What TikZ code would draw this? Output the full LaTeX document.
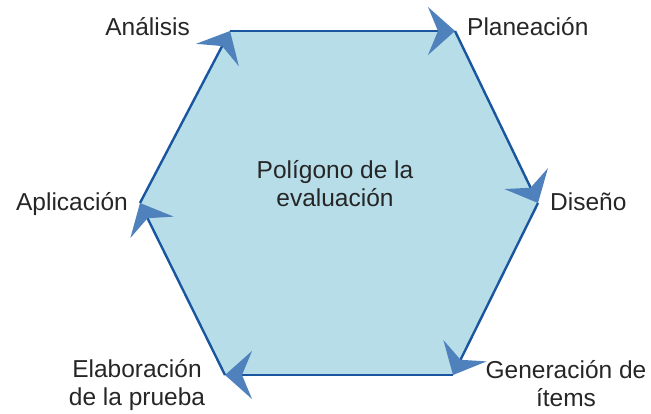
\documentclass[tikz,border=0pt]{standalone}
\usepackage{fontspec}
\setmainfont{Liberation Sans}
\usetikzlibrary{arrows.meta}
\definecolor{hexfill}{HTML}{B7DDE8}
\definecolor{hexline}{HTML}{1A56A0}
\definecolor{tipblue}{HTML}{4F81BD}

\begin{document}
\begin{tikzpicture}[x=1pt, y=-1pt,
    stage/.style={font=\fontsize{24.5}{28}\selectfont, align=center,
                  inner sep=0pt, text=black!85},
    side/.style={line width=2.4pt, draw=hexline,
                 -{Stealth[length=27pt, width=48pt, inset=10pt, color=tipblue]}}
]
    \useasboundingbox (0,0) rectangle (651,413);

    % corners of the hexagon
    \coordinate (an) at (230,31);
    \coordinate (pl) at (455,31);
    \coordinate (di) at (538,203);
    \coordinate (ge) at (453,375);
    \coordinate (el) at (225,375);
    \coordinate (ap) at (140,203);

    \fill[hexfill] (an) -- (pl) -- (di) -- (ge) -- (el) -- (ap) -- cycle;

    \draw[side] (an) -- (pl);
    \draw[side] (pl) -- (di);
    \draw[side] (di) -- (ge);
    \draw[side] (ge) -- (el);
    \draw[side] (el) -- (ap);
    \draw[side] (ap) -- (an);

    % labels
    \node[stage, anchor=base east] (tan) at (190,35)  {Análisis};
    \node[stage, anchor=base west] (tpl) at (467,35)  {Planeación};
    \node[stage, anchor=base west] (tdi) at (550,210) {Diseño};
    \node[stage, anchor=base]      (tge) at (566,406) {Generación de\\ítems};
    \node[stage, anchor=base]      (tel) at (137,405) {Elaboración\\de la prueba};
    \node[stage, anchor=base east] (tap) at (128,210) {Aplicación};
    \node[stage, anchor=base]      (tpo) at (335,206) {Polígono de la\\evaluación};
\end{tikzpicture}
\end{document}
